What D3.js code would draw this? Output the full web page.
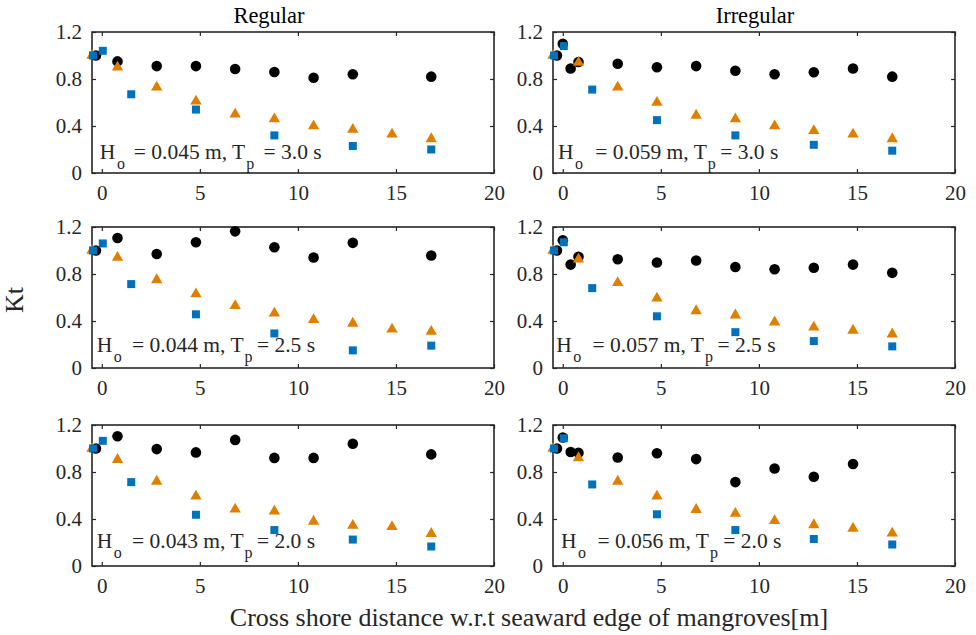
<!DOCTYPE html>
<html>
<head>
<meta charset="utf-8">
<script src="https://cdn.jsdelivr.net/npm/d3@7"></script>
<style>
  body { margin: 0; background: #fff; }
  svg { font-family: "Liberation Serif", "Times New Roman", serif; }
  text { white-space: pre; }
</style>
</head>
<body>
<svg id="chart" width="976" height="635"></svg>
<script>
// x positions (m) of each probe series
const xCircReg = [-0.3, 0.8, 2.8, 4.8, 6.8, 8.8, 10.8, 12.8, 16.8];
const xCircIrr = [-0.3, 0, 0.4, 0.8, 2.8, 4.8, 6.8, 8.8, 10.8, 12.8, 14.8, 16.8];
const xTri = [-0.5, 0.8, 2.8, 4.8, 6.8, 8.8, 10.8, 12.8, 14.8, 16.8];
const xSq = [-0.45, 0.05, 1.5, 4.8, 8.8, 12.8, 16.8];

// Kt values, regular waves (rows: 3.0 s, 2.5 s, 2.0 s)
const circReg1 = [1.0, 0.95, 0.91, 0.91, 0.885, 0.86, 0.81, 0.84, 0.82];
const circReg2 = [1.0, 1.107, 0.97, 1.07, 1.163, 1.028, 0.94, 1.065, 0.957];
const circReg3 = [1.0, 1.104, 0.995, 0.967, 1.073, 0.92, 0.92, 1.04, 0.95];
const triReg1 = [1.0, 0.90, 0.73, 0.61, 0.50, 0.46, 0.40, 0.37, 0.33, 0.29];
const triReg2 = [1.0, 0.94, 0.75, 0.63, 0.53, 0.466, 0.41, 0.38, 0.33, 0.31];
const triReg3 = [1.0, 0.905, 0.72, 0.593, 0.483, 0.466, 0.38, 0.345, 0.334, 0.275];
const sqReg1 = [1.0, 1.04, 0.67, 0.54, 0.32, 0.23, 0.20];
const sqReg2 = [1.0, 1.06, 0.714, 0.457, 0.294, 0.15, 0.19];
const sqReg3 = [1.0, 1.065, 0.714, 0.436, 0.306, 0.225, 0.166];

// Kt values, irregular waves
const circIrr1 = [1.0, 1.10, 0.89, 0.945, 0.93, 0.90, 0.91, 0.87, 0.84, 0.857, 0.89, 0.82];
const circIrr2 = [1.0, 1.087, 0.88, 0.946, 0.926, 0.898, 0.915, 0.86, 0.84, 0.853, 0.88, 0.81];
const circIrr3 = [1.0, 1.093, 0.97, 0.964, 0.924, 0.96, 0.91, 0.714, 0.83, 0.76, 0.868, null];
const triIrr1 = [1.0, 0.94, 0.73, 0.60, 0.49, 0.46, 0.40, 0.36, 0.33, 0.29];
const triIrr2 = [1.0, 0.926, 0.726, 0.593, 0.486, 0.45, 0.39, 0.347, 0.32, 0.288];
const triIrr3 = [1.0, 0.92, 0.72, 0.593, 0.48, 0.447, 0.385, 0.35, 0.32, 0.278];
const sqIrr1 = [1.0, 1.08, 0.71, 0.45, 0.32, 0.24, 0.19];
const sqIrr2 = [1.0, 1.07, 0.68, 0.44, 0.305, 0.229, 0.184];
const sqIrr3 = [1.0, 1.087, 0.694, 0.44, 0.306, 0.23, 0.183];

const hoLabels = ["0.045", "0.044", "0.043", "0.059", "0.057", "0.056"];
const tpLabels = ["3.0", "2.5", "2.0", "3.0", "2.5", "2.0"];
const annotX = [-0.1, -0.26, -0.26, -0.25, -0.34, -0.09];
const annotY = [0.117, 0.14, 0.15, 0.117, 0.14, 0.15];
const titles = ["Regular", "Irregular"];
const xTicks = [0, 5, 10, 15, 20];
const yTicks = [0, 0.4, 0.8, 1.2];

const panels = [
  {col: 0, row: 0, xc: xCircReg, c: circReg1, t: triReg1, s: sqReg1},
  {col: 0, row: 1, xc: xCircReg, c: circReg2, t: triReg2, s: sqReg2},
  {col: 0, row: 2, xc: xCircReg, c: circReg3, t: triReg3, s: sqReg3},
  {col: 1, row: 0, xc: xCircIrr, c: circIrr1, t: triIrr1, s: sqIrr1},
  {col: 1, row: 1, xc: xCircIrr, c: circIrr2, t: triIrr2, s: sqIrr2},
  {col: 1, row: 2, xc: xCircIrr, c: circIrr3, t: triIrr3, s: sqIrr3}
];

// extra space before "=" after each subscript (MATLAB tex spacing)
const gapO = [3.5, 5, 5, 7, 6, 6];
const gapP = [4, -1, -1, -1, -1, 0];

const colLeft = [92, 553];
const panelW = 402;
const rowTop = [32, 227, 425];
const panelH = 141;
const axisCol = "#262626";
const orange = "#DF7F00";
const blue = "#0072BD";

const svg = d3.select("#chart");

panels.forEach((p, i) => {
  const x = d3.scaleLinear().domain([-0.5, 20]).range([colLeft[p.col], colLeft[p.col] + panelW]);
  const y = d3.scaleLinear().domain([0, 1.2]).range([rowTop[p.row] + panelH, rowTop[p.row]]);
  const g = svg.append("g");

  // inside ticks on all four sides
  g.append("g").attr("transform", `translate(0,${y(0)})`)
    .call(d3.axisBottom(x).tickValues(xTicks).tickSizeInner(-4).tickSizeOuter(0).tickPadding(12).tickFormat(d3.format("d")));
  g.append("g").attr("transform", `translate(0,${y(1.2)})`)
    .call(d3.axisTop(x).tickValues(xTicks).tickSizeInner(-4).tickSizeOuter(0).tickFormat(""));
  g.append("g").attr("transform", `translate(${x(-0.5)},0)`)
    .call(d3.axisLeft(y).tickValues(yTicks).tickSizeInner(-4).tickSizeOuter(0).tickPadding(10).tickFormat(d => d === 0 ? "0" : d3.format(".1f")(d)));
  g.append("g").attr("transform", `translate(${x(20)},0)`)
    .call(d3.axisRight(y).tickValues(yTicks).tickSizeInner(-4).tickSizeOuter(0).tickFormat(""));

  g.selectAll(".domain").remove();
  g.selectAll(".tick line").attr("stroke", axisCol).attr("stroke-width", 1.2);
  g.selectAll(".tick text").attr("fill", axisCol).attr("font-size", 21)
    .attr("font-family", "Liberation Serif");

  g.append("rect")
    .attr("x", x(-0.5)).attr("y", y(1.2))
    .attr("width", x(20) - x(-0.5)).attr("height", y(0) - y(1.2))
    .attr("fill", "none").attr("stroke", axisCol).attr("stroke-width", 1.6);

  const circ = p.xc.map((v, k) => [v, p.c[k]]).filter(d => d[1] != null);
  const tri = xTri.map((v, k) => [v, p.t[k]]);
  const sq = xSq.map((v, k) => [v, p.s[k]]);

  g.selectAll(".c").data(circ).join("circle")
    .attr("cx", d => x(d[0])).attr("cy", d => y(d[1])).attr("r", 5.3).attr("fill", "#000");
  g.selectAll(".t").data(tri).join("path")
    .attr("d", d3.symbol(d3.symbolTriangle, 56))
    .attr("transform", d => `translate(${x(d[0])},${y(d[1])})`).attr("fill", orange);
  g.selectAll(".s").data(sq).join("rect")
    .attr("x", d => x(d[0]) - 4).attr("y", d => y(d[1]) - 4)
    .attr("width", 8).attr("height", 8).attr("fill", blue);

  const txt = g.append("text")
    .attr("x", x(annotX[i])).attr("y", y(annotY[i]))
    .attr("font-size", 21.5).attr("fill", axisCol);
  txt.append("tspan").text("H");
  txt.append("tspan").attr("dx", 1.5).attr("dy", 10).attr("font-size", 16).text("o");
  txt.append("tspan").attr("dx", gapO[i]).attr("dy", -10).text(` = ${hoLabels[i]} m, T`);
  txt.append("tspan").attr("dx", 1).attr("dy", 10).attr("font-size", 16).text("p");
  txt.append("tspan").attr("dx", gapP[i]).attr("dy", -10).text(` = ${tpLabels[i]} s`);
});

svg.append("text").attr("x", 269).attr("y", 23).attr("text-anchor", "middle")
  .attr("font-size", 22.5).attr("fill", "#000").text(titles[0]);
svg.append("text").attr("x", 755).attr("y", 23).attr("text-anchor", "middle")
  .attr("font-size", 22.5).attr("fill", "#000").text(titles[1]);

svg.append("text").attr("x", 529).attr("y", 626).attr("text-anchor", "middle")
  .attr("font-size", 26).attr("fill", axisCol)
  .text("Cross shore distance w.r.t seaward edge of mangroves[m]");

svg.append("text").attr("transform", "translate(23,300) rotate(-90)")
  .attr("text-anchor", "middle").attr("font-size", 26).attr("fill", axisCol).text("Kt");
</script>
</body>
</html>
